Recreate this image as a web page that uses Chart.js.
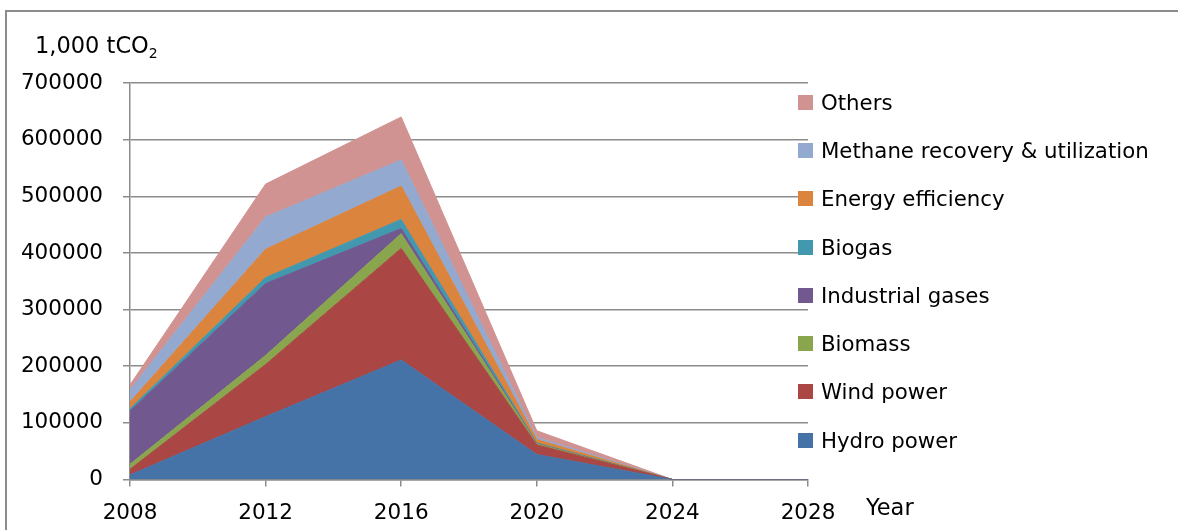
<!DOCTYPE html>
<html>
<head>
<meta charset="utf-8">
<script src="https://cdn.jsdelivr.net/npm/chart.js@4.4.0/dist/chart.umd.min.js"></script>
<style>
  body { margin: 0; background: #fff; font-family: "DejaVu Sans", sans-serif; }
  #wrap { position: relative; width: 1178px; height: 530px; overflow: hidden; }
  #frame { position: absolute; left: 5px; top: 10px; width: 1200px; height: 600px;
           border-top: 2px solid #8c8c8c; border-left: 2px solid #8c8c8c; }
  #chart { position: absolute; left: 0; top: 0; }
  .ytitle { position: absolute; left: 35px; top: 32px; font-size: 22.5px; color: #000; }
  .ytitle sub { font-size: 14px; vertical-align: -5px; }
  .xtitle { position: absolute; left: 866px; top: 494px; font-size: 22.5px; color: #000; }
  #legend { position: absolute; left: 798px; top: 78px; font-size: 21.3px; color: #000; }
  #legend div { height: 48.3px; display: flex; align-items: center; }
  #legend span.box { width: 15px; height: 15px; margin-right: 8px; display: inline-block; }
</style>
</head>
<body>
<div id="wrap">
  <div id="frame"></div>
  <canvas id="chart" width="1178" height="530"></canvas>
  <div class="ytitle">1,000 tCO<sub>2</sub></div>
  <div class="xtitle">Year</div>
  <div id="legend"></div>
</div>
<script>
const years = ['2008', '2012', '2016', '2020', '2024', '2028'];

const hydroPower   = [8000, 111000, 211000, 44000, 0, 0];
const windPower    = [10000, 92000, 197000, 17000, 0, 0];
const biomass      = [9000, 16000, 26000, 2000, 0, 0];
const industrial   = [94000, 127000, 9000, 500, 0, 0];
const biogas       = [4000, 10500, 16000, 1000, 0, 0];
const energyEff    = [12000, 50000, 59000, 6000, 0, 0];
const methane      = [21000, 57000, 46000, 3500, 0, 0];
const others       = [9000, 58000, 76000, 12000, 0, 0];

const seriesNames  = ['Hydro power', 'Wind power', 'Biomass', 'Industrial gases', 'Biogas',
                      'Energy efficiency', 'Methane recovery & utilization', 'Others'];
const seriesData   = [hydroPower, windPower, biomass, industrial, biogas, energyEff, methane, others];
const seriesColors = ['#4572A7', '#AA4643', '#89A54E', '#71588F', '#4198AF', '#DB843D', '#93A9CF', '#D19392'];

const yTicks = [0, 100000, 200000, 300000, 400000, 500000, 600000, 700000];

const datasets = seriesNames.map((name, i) => ({
    label: name,
    data: seriesData[i],
    backgroundColor: seriesColors[i],
    borderColor: seriesColors[i],
    borderWidth: 1,
    pointRadius: 0,
    fill: i === 0 ? 'origin' : '-1',
    tension: 0
}));

// legend, top to bottom in reverse stack order
const legend = document.getElementById('legend');
for (let i = seriesNames.length - 1; i >= 0; i--) {
    const row = document.createElement('div');
    const box = document.createElement('span');
    box.className = 'box';
    box.style.background = seriesColors[i];
    row.appendChild(box);
    row.appendChild(document.createTextNode(seriesNames[i]));
    legend.appendChild(row);
}

const gridColor = '#8c8c8c';
const tickFont = { family: 'DejaVu Sans', size: 21.5 };
const ctx = document.getElementById('chart').getContext('2d');
new Chart(ctx, {
    type: 'line',
    data: { labels: years, datasets: datasets },
    options: {
        responsive: false,
        animation: false,
        layout: { padding: { left: 0, right: 370, top: 83, bottom: 0 } },
        plugins: { legend: { display: false }, tooltip: { enabled: false } },
        scales: {
            x: {
                offset: false,
                grid: { drawOnChartArea: false, color: gridColor, tickLength: 7, lineWidth: 1.5 },
                border: { color: gridColor, width: 1.5 },
                ticks: { color: '#000', padding: 14, font: tickFont, maxRotation: 0 },
                afterFit: s => { s.height = 50.5; }
            },
            y: {
                stacked: true,
                min: 0,
                max: 700000,
                afterBuildTicks: s => { s.ticks = yTicks.map(v => ({ value: v })); },
                grid: { color: gridColor, tickLength: 7, lineWidth: 1.5 },
                border: { color: gridColor, width: 1.5 },
                ticks: { color: '#000', padding: 20, font: tickFont,
                         callback: v => String(v) },
                afterFit: s => { s.width = 130; }
            }
        }
    }
});
</script>
</body>
</html>
